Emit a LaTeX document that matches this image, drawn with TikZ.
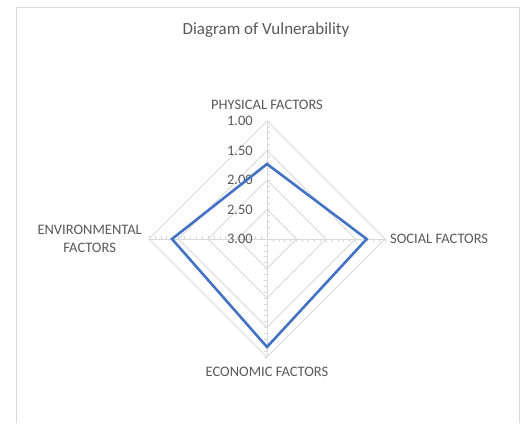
\documentclass[tikz,border=0pt]{standalone}
\usepackage{fontspec}
\setmainfont{Carlito}
\definecolor{gridgray}{HTML}{D9D9D9}
\definecolor{txtgray}{HTML}{595959}
\definecolor{seriesblue}{HTML}{4472C4}

\begin{document}
\begin{tikzpicture}[x=1pt,y=1pt,
    grid/.style={gridgray, line width=0.8pt},
    axislabel/.style={text=txtgray, font=\fontsize{14.5}{18}\selectfont, inner sep=0pt, align=center},
    ticklabel/.style={text=txtgray, font=\fontsize{14.5}{16}\selectfont, inner sep=0pt, anchor=east},
    series/.style={seriesblue, line width=2.6pt, line join=miter}]
    \useasboundingbox (0,0) rectangle (526,423);

    % chart frame (open at the bottom)
    \draw [gridgray, line width=1pt] (16,0) -- (16,415) -- (519,415) -- (519,0);

    % title
    \node [text=txtgray, font=\fontsize{17}{20}\selectfont] (title) at (266,393) {Diagram of Vulnerability};

    \begin{scope}[shift={(267,184)}]
        % rings
        \foreach \r in {29.5,59,88.5,118}
            \draw [grid] (0,\r) -- (\r,0) -- (0,-\r) -- (-\r,0) -- cycle;

        % spokes and minor ticks
        \foreach \a in {0,90,180,270} {
            \draw [grid] (0,0) -- (\a:118);
            \foreach \k in {1,...,20}
                \draw [grid, line width=0.6pt] (\a:{\k*5.9}) -- ++(\a-90:3);
        }

        % scale
        \foreach \v/\y [count=\i] in {1.00/118, 1.50/88.5, 2.00/59, 2.50/29.5, 3.00/0}
            \node [ticklabel] (tick\i) at (-14,\y) {\v};

        % category labels
        \node [axislabel] (physical) at (0,134) {PHYSICAL FACTORS};
        \node [axislabel, anchor=west] (social) at (123,0) {SOCIAL FACTORS};
        \node [axislabel] (economic) at (0,-133) {ECONOMIC FACTORS};
        \node [axislabel, anchor=east] (environmental) at (-125,0) {ENVIRONMENTAL\\FACTORS};

        % data
        \coordinate (p) at (90:75);
        \coordinate (s) at (0:99.7);
        \coordinate (e) at (270:108);
        \coordinate (v) at (180:95);
        \draw [series] (p) -- (s) -- (e) -- (v) -- cycle;
    \end{scope}
\end{tikzpicture}
\end{document}
